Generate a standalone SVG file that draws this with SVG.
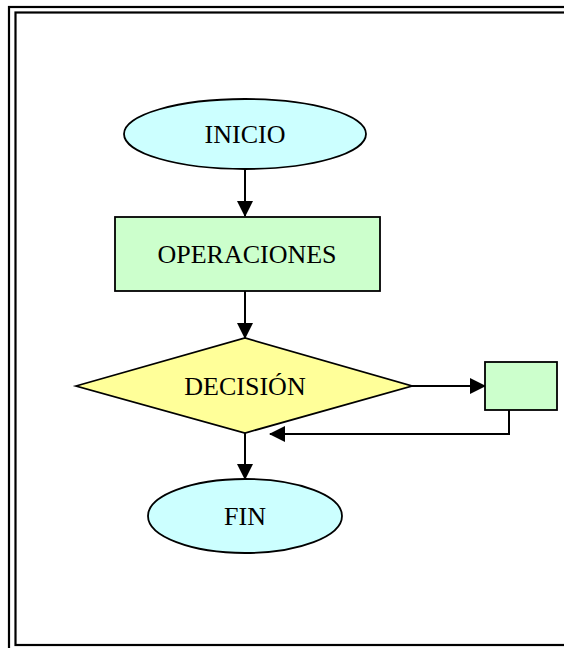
<svg xmlns="http://www.w3.org/2000/svg" width="564" height="648" viewBox="0 0 564 648">
  <style>
    .frame { fill: none; stroke: #000; stroke-width: 2.2; }
    .shape { stroke: #000; stroke-width: 1.8; }
    .term { fill: #CCFFFF; }
    .proc { fill: #CCFFCC; }
    .dec { fill: #FFFF99; }
    .label { font-family: "Liberation Serif", "Times New Roman", serif; font-size: 26px; fill: #000; text-anchor: middle; }
    .conn { fill: none; stroke: #000; stroke-width: 2; }
  </style>
  <defs>
    <marker id="arrow" markerUnits="userSpaceOnUse" markerWidth="16" markerHeight="16" viewBox="0 0 16 16" refX="15" refY="8" orient="auto">
      <path d="M0,0 L16,8 L0,16 Z" fill="#000"/>
    </marker>
  </defs>

  <!-- double page border -->
  <g id="border">
    <rect class="frame" x="9" y="7" width="570" height="650"/>
    <rect class="frame" x="15.5" y="12.5" width="560" height="632.5"/>
  </g>

  <g id="connectors">
    <line class="conn" x1="245" y1="169" x2="245" y2="216" marker-end="url(#arrow)"/>
    <line class="conn" x1="245" y1="291" x2="245" y2="338" marker-end="url(#arrow)"/>
    <line class="conn" x1="412" y1="386" x2="485" y2="386" marker-end="url(#arrow)"/>
    <polyline class="conn" points="509,410 509,434 270,434" marker-end="url(#arrow)"/>
    <line class="conn" x1="245" y1="433" x2="245" y2="479" marker-end="url(#arrow)"/>
  </g>

  <g id="inicio">
    <ellipse class="shape term" cx="245" cy="134" rx="121" ry="35"/>
    <text class="label" x="245" y="143">INICIO</text>
  </g>

  <g id="operaciones">
    <rect class="shape proc" x="115" y="217" width="265" height="74"/>
    <text class="label" x="247" y="263">OPERACIONES</text>
  </g>

  <g id="decision">
    <polygon class="shape dec" points="76,386 245,338 412,386 245,433"/>
    <text class="label" x="245" y="395">DECISIÓN</text>
  </g>

  <g id="proceso">
    <rect class="shape proc" x="485" y="362" width="72" height="48"/>
  </g>

  <g id="fin">
    <ellipse class="shape term" cx="245" cy="516" rx="97" ry="37"/>
    <text class="label" x="245" y="525">FIN</text>
  </g>
</svg>
